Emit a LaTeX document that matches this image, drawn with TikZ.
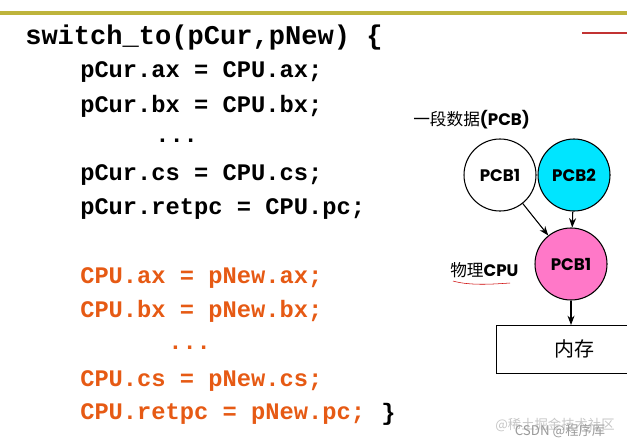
\documentclass[tikz,border=0pt]{standalone}
\usepackage{fontspec}
\setmonofont{Liberation Mono}
\setsansfont{Poppins}
\newfontfamily\cjk{Noto Sans CJK SC}
\usetikzlibrary{arrows.meta}
\definecolor{olive}{RGB}{190,180,60}
\definecolor{codeor}{RGB}{230,90,20}
\definecolor{cyanc}{RGB}{0,229,255}
\definecolor{pinkc}{RGB}{255,120,200}
\begin{document}
\begin{tikzpicture}[x=0.75pt,y=-0.75pt,
  code/.style={anchor=west,inner sep=0,font=\ttfamily\bfseries\fontsize{17.8}{20}\selectfont},
  orc/.style={code,text=codeor},
  pcb/.style={circle,draw,thick,minimum size=54pt,inner sep=0,font=\sffamily\bfseries\fontsize{12.5}{14}\selectfont},
  arr/.style={-{Stealth[length=7pt]},thick},
  lab/.style={inner sep=0,font=\cjk\fontsize{12.5}{15}\selectfont}]
\useasboundingbox (0,0) rectangle (627,447);
\draw[olive,line width=2.5pt] (0,13) -- (627,13);
\draw[red!70!black!80,line width=1pt] (582,33) -- (627,33);
\node[code,font=\ttfamily\bfseries\fontsize{20.3}{22}\selectfont] (l1) at (25,37) {switch\_to(pCur,pNew) \{};
\node[code] (l2) at (80,72) {pCur.ax = CPU.ax;};
\node[code] (l3) at (80,106) {pCur.bx = CPU.bx;};
\node[code] (l4) at (155,141) {...};
\node[code] (l5) at (80,175) {pCur.cs = CPU.cs;};
\node[code] (l6) at (80,209) {pCur.retpc = CPU.pc;};
\node[orc] (o1) at (80,278) {CPU.ax = pNew.ax;};
\node[orc] (o2) at (80,311) {CPU.bx = pNew.bx;};
\node[orc] (o3) at (168,348) {...};
\node[orc] (o4) at (80,381) {CPU.cs = pNew.cs;};
\node[orc] (o5) at (80,414) {CPU.retpc = pNew.pc;};
\node[code] (cl) at (381,414) {\}};
\node[lab,anchor=west] (t1) at (413,120) {一段数据{\sffamily\bfseries(PCB)}};
\node[pcb] (a) at (500,175) {PCB1};
\node[pcb,fill=cyanc] (b) at (574,175) {PCB2};
\node[pcb,fill=pinkc] (c) at (571,264) {PCB1};
\draw[arr] (a) -- (c);
\draw[arr] (b) -- (c);
\node[lab,anchor=west] (t2) at (450,270) {物理{\sffamily\bfseries CPU}};
\draw[red!80!black,thin] (453,281) .. controls (470,286) and (495,284) .. (510,283);
\node[draw,thick,minimum width=160pt,minimum height=36pt,anchor=north west,inner sep=0] (m) at (496,325) {};
\node[lab,font=\cjk\fontsize{15}{18}\selectfont] (mt) at (574,349) {内存};
\draw[arr] (c) -- (c|-m.north);
\node[inner sep=0,text=gray!45,font=\cjk\fontsize{10}{12}\selectfont] (w1) at (555,425) {@稀土掘金技术社区};
\node[inner sep=0,text=gray!80,font=\cjk\fontsize{10}{12}\selectfont] (w2) at (560,431) {CSDN @程序厍};
\end{tikzpicture}
\end{document}
